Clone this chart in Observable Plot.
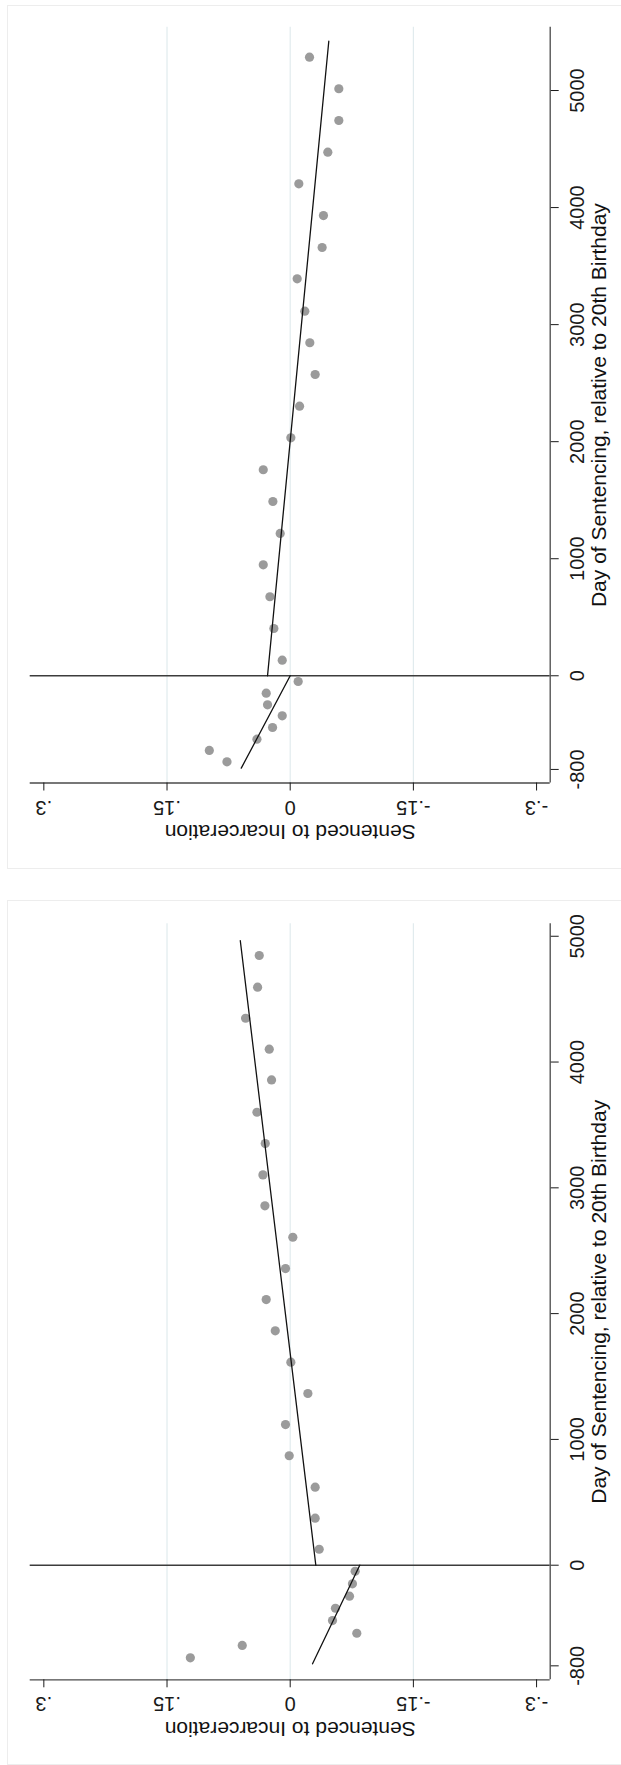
<!DOCTYPE html>
<html>
<head>
<meta charset="utf-8">
<script src="https://cdn.jsdelivr.net/npm/d3@7"></script>
<script src="https://cdn.jsdelivr.net/npm/@observablehq/plot@0.6"></script>
<style>
  html, body { margin: 0; padding: 0; background: #fff; }
  #page { position: relative; width: 621px; height: 1765px; overflow: hidden; background: #fff; }
  .panel { position: absolute; left: 0; }
  .frame { position: absolute; border: 1px solid #ededed; box-sizing: border-box; pointer-events: none; }
</style>
</head>
<body>
<div id="page"></div>
<script>
// ---- shared axis content ----
const valueTicks = [-0.3, -0.15, 0, 0.15, 0.3];
const gridValues = [-0.15, 0, 0.15];
const dayTicks = [-800, 0, 1000, 2000, 3000, 4000, 5000];
const xTitle = "Sentenced to Incarceration";
const yTitle = "Day of Sentencing, relative to 20th Birthday";

// ---- top panel: binned means ----
const topDays = [-735, -638, -542, -442, -342, -248, -149, -49,
  133, 404, 675, 948, 1216, 1489, 1760, 2033, 2303, 2574, 2845, 3115, 3391, 3659, 3932, 4203, 4473, 4744, 5015, 5285];
const topVals = [0.077, 0.0985, 0.0405, 0.0215, 0.0097, 0.0276, 0.0292, -0.0097,
  0.0097, 0.0199, 0.0247, 0.0328, 0.0122, 0.0211, 0.0328, -0.0008, -0.0114, -0.0304, -0.0239, -0.0178, -0.0085, -0.0389, -0.0405, -0.0105, -0.0458, -0.0592, -0.0592, -0.0235];
// top panel: linear fits on each side of the cutoff
const topFitLeftDays = [-789, 0];
const topFitLeftVals = [0.0596, 0.0];
const topFitRightDays = [0, 5421];
const topFitRightVals = [0.0276, -0.047];

// ---- bottom panel: binned means ----
const botDays = [-736, -638, -541, -440, -342, -246, -148, -48,
  127, 374, 620, 870, 1118, 1365, 1614, 1863, 2112, 2358, 2607, 2857, 3103, 3352, 3601, 3858, 4102, 4348, 4595, 4847];
const botVals = [0.1216, 0.0584, -0.0811, -0.0515, -0.0551, -0.0722, -0.0758, -0.0791,
  -0.0353, -0.0304, -0.0304, 0.0012, 0.0057, -0.0215, -0.0008, 0.0182, 0.0292, 0.0057, -0.0032, 0.0308, 0.0332, 0.0304, 0.0405, 0.0227, 0.0255, 0.0543, 0.0397, 0.0377];
// bottom panel: linear fits
const botFitLeftDays = [-784, 0];
const botFitLeftVals = [-0.0272, -0.0847];
const botFitRightDays = [0, 4966];
const botFitRightVals = [-0.0312, 0.0608];

const fmtValue = d => d === 0 ? "0" : (d < 0 ? "-" : "") + String(Math.abs(d)).replace(/^0/, "");
const font = "'Liberation Sans', Arial, Helvetica, sans-serif";

function zip(a, b) { return a.map((d, i) => ({day: d, val: b[i]})); }

function makePanel(cfg) {
  const pts = zip(cfg.days, cfg.vals);
  const fitL = zip(cfg.fitLDays, cfg.fitLVals);
  const fitR = zip(cfg.fitRDays, cfg.fitRVals);
  return Plot.plot({
    width: 621,
    height: cfg.height,
    marginLeft: 29.7,
    marginRight: 71.3,
    marginTop: cfg.marginTop,
    marginBottom: cfg.marginBottom,
    style: {background: "transparent", fontFamily: font, color: "#111", overflow: "visible"},
    x: {domain: cfg.xDomain},
    y: {domain: cfg.yDomain},
    marks: [
      Plot.ruleX(gridValues, {stroke: "#e1ebee", strokeWidth: 1.2}),
      Plot.ruleY([0], {stroke: "#3c3c3c", strokeWidth: 1.6}),
      Plot.ruleY([cfg.yDomain[0]], {stroke: "#4a4a4a", strokeWidth: 1.3}),
      Plot.ruleX([cfg.xDomain[1]], {stroke: "#4a4a4a", strokeWidth: 1.3}),
      Plot.dot(pts, {x: "val", y: "day", r: 4.6, fill: "#9b9b9b", stroke: "none"}),
      Plot.line(fitL, {x: "val", y: "day", stroke: "#111", strokeWidth: 1.3}),
      Plot.line(fitR, {x: "val", y: "day", stroke: "#111", strokeWidth: 1.3}),
      Plot.axisX(valueTicks, {
        anchor: "bottom", tickSize: 8, tickPadding: 16, tickRotate: 180,
        textAnchor: "middle", lineAnchor: "middle", tickFormat: fmtValue,
        fontSize: 20, label: null, color: "#1a1a1a"
      }),
      Plot.axisY(dayTicks, {
        anchor: "right", tickSize: 8, tickPadding: 19, tickRotate: -90,
        textAnchor: "middle", lineAnchor: "middle", tickFormat: d => String(d),
        fontSize: 20, label: null, color: "#1a1a1a"
      }),
      Plot.text([xTitle], {frameAnchor: "bottom", text: d => d, rotate: 180, dy: 48.5,
        lineAnchor: "middle", textAnchor: "middle", fontSize: 21, fill: "#111"}),
      Plot.text([yTitle], {frameAnchor: "right", text: d => d, rotate: -90, dx: 48.8,
        lineAnchor: "middle", textAnchor: "middle", fontSize: 21, fill: "#111"})
    ]
  });
}

const pageEl = document.getElementById("page");

const topPanel = makePanel({
  height: 870, marginTop: 26.7, marginBottom: 87.5,
  xDomain: [0.3166, -0.3166], yDomain: [-916, 5541],
  days: topDays, vals: topVals,
  fitLDays: topFitLeftDays, fitLVals: topFitLeftVals,
  fitRDays: topFitRightDays, fitRVals: topFitRightVals
});
topPanel.classList.add("panel");
topPanel.style.top = "0px";
pageEl.appendChild(topPanel);

const bottomPanel = makePanel({
  height: 870, marginTop: 28.3, marginBottom: 85.7,
  xDomain: [0.3166, -0.3166], yDomain: [-911, 5099],
  days: botDays, vals: botVals,
  fitLDays: botFitLeftDays, fitLVals: botFitLeftVals,
  fitRDays: botFitRightDays, fitRVals: botFitRightVals
});
bottomPanel.classList.add("panel");
bottomPanel.style.top = "895px";
pageEl.appendChild(bottomPanel);

// graph-region outlines (open on the right, as in the reference crop)
[[5, 864], [900, 865]].forEach(([t, h]) => {
  const f = document.createElement("div");
  f.className = "frame";
  f.style.left = "7px";
  f.style.top = t + "px";
  f.style.width = "700px";
  f.style.height = h + "px";
  pageEl.appendChild(f);
});
</script>
</body>
</html>
